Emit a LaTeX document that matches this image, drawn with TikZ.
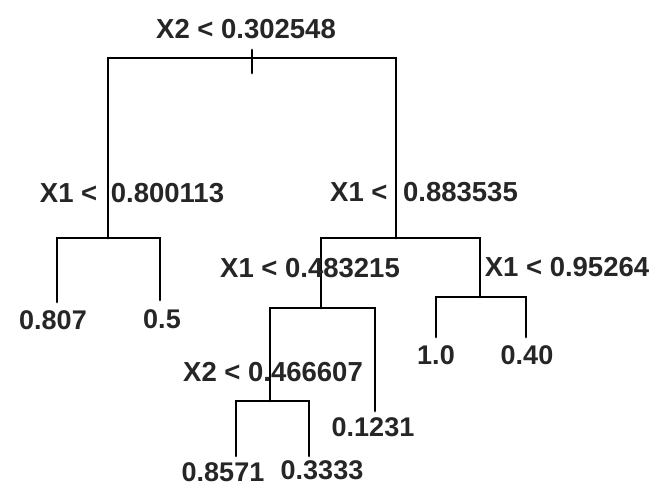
\documentclass[tikz,border=0pt]{standalone}
\usepackage{fontspec}
\setmainfont{Liberation Sans}
\begin{document}
\begin{tikzpicture}[x=1pt,y=-1pt,
  branch/.style={line width=2.8pt,line cap=round,line join=miter},
  lab/.style={inner sep=0pt,font=\fontsize{27.5}{30}\selectfont\bfseries,text=black!85},
  leaf/.style={inner sep=0pt,font=\fontsize{27}{30}\selectfont\bfseries,text=black!85}]
\useasboundingbox[fill=white] (0,0) rectangle (657,495);
% split points
\coordinate (r)  at (252,58);
\coordinate (rt) at (252,50);
\coordinate (rb) at (252,73);
\coordinate (rl) at (108,58);
\coordinate (rr) at (396,58);
\coordinate (a)  at (108,238);
\coordinate (b)  at (396,238);
\coordinate (c)  at (321,308);
\coordinate (d)  at (270,401);
\coordinate (e)  at (480,297);
% leaf ends
\coordinate (l1) at (57,302);
\coordinate (l2) at (160,300);
\coordinate (l3) at (375,411);
\coordinate (l4) at (236,456);
\coordinate (l5) at (309,456);
\coordinate (l6) at (436,337);
\coordinate (l7) at (526,337);
% branches
\draw[branch] (a) |- (rl) -- (rr) -- (b);
\draw[branch] (rt) -- (rb);
\draw[branch] (l1) |- (a) -| (l2);
\draw[branch] (c) |- (b) -| (e);
\draw[branch] (d) |- (c) -| (l3);
\draw[branch] (l4) |- (d) -| (l5);
\draw[branch] (l6) |- (e) -| (l7);
% split labels
\node[lab] (t0) at (246,29)  {X2 < 0.302548};
\node[lab] (t1) at (132,193) {X1 <\hspace{6pt} 0.800113};
\node[lab] (t2) at (424,192) {X1 <\hspace{8pt} 0.883535};
\node[lab] (t3) at (310,268) {X1 < 0.483215};
\node[lab] (t4) at (567,267) {X1 < 0.95264};
\node[lab] (t5) at (273,372) {X2 < 0.466607};
% leaf labels
\node[leaf] (v1) at (53,320)  {0.807};
\node[leaf] (v2) at (162,319) {0.5};
\node[leaf] (v3) at (373,427) {0.1231};
\node[leaf] (v4) at (223,472) {0.8571};
\node[leaf] (v5) at (322,470) {0.3333};
\node[leaf] (v6) at (436,355) {1.0};
\node[leaf] (v7) at (527,355) {0.40};
\end{tikzpicture}
\end{document}
